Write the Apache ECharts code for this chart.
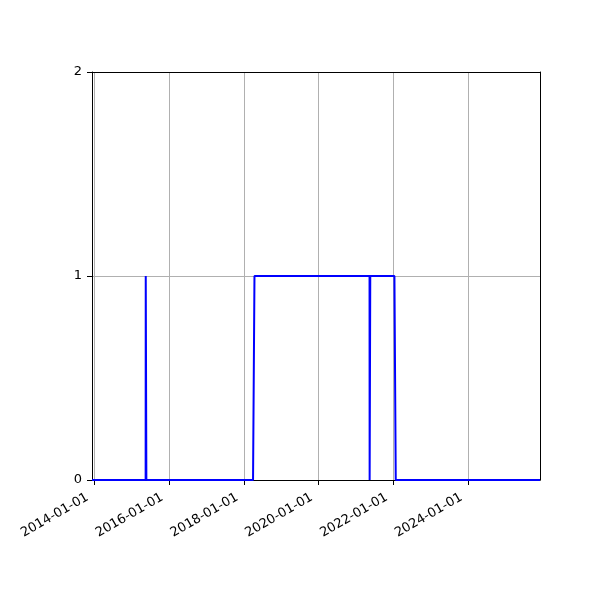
<!DOCTYPE html>
<html>
<head>
<meta charset="utf-8">
<script src="https://cdn.jsdelivr.net/npm/echarts@6/dist/echarts.min.js"></script>
<style>html,body{margin:0;padding:0;background:#fff}#c{width:600px;height:600px}</style>
</head>
<body>
<div id="c"></div>
<script>
// ---- data ----
const dates = ['2013-12-10','2015-05-18','2015-05-19','2015-05-24','2015-05-25','2018-04-01','2018-04-15','2021-05-13','2021-05-14','2021-05-19','2021-05-20','2022-01-11','2022-01-24','2025-12-03'];
const values = [0,0,1,1,0,0,1,1,0,0,1,1,0,0];
const xTickDates = ['2014-01-01','2016-01-01','2018-01-01','2020-01-01','2022-01-01','2024-01-01'];
const yTicks = [0,1,2];
const xRange = ['2013-12-10','2025-12-03'];

function ts(s){const p=s.split('-').map(Number);return Date.UTC(p[0],p[1]-1,p[2]);}
function fmt(v){const d=new Date(v);const p=n=>String(n).padStart(2,'0');return d.getUTCFullYear()+'-'+p(d.getUTCMonth()+1)+'-'+p(d.getUTCDate());}
const seriesData = dates.map((d,i)=>[ts(d),values[i]]);
const xTickVals = xTickDates.map(ts);
const font = 'DejaVu Sans';

const chart = echarts.init(document.getElementById('c'), null, {renderer:'canvas'});
chart.setOption({
  animation:false,
  grid:{left:92,right:60,top:72,bottom:120,show:false},
  xAxis:[{
    type:'value', min:ts(xRange[0]), max:ts(xRange[1]),
    axisLine:{show:true,onZero:false,lineStyle:{color:'#000',width:1}},
    axisTick:{show:true,length:5,lineStyle:{color:'#000',width:1},customValues:xTickVals},
    axisLabel:{show:true,rotate:30,margin:20,verticalAlign:'bottom',align:'right',padding:[0,4,0,0],color:'#000',fontFamily:font,fontSize:13,
      customValues:xTickVals, formatter:fmt, showMinLabel:true, showMaxLabel:true},
    splitLine:{show:true,lineStyle:{color:'#b0b0b0',width:1}}
  },{
    type:'value', position:'top', min:ts(xRange[0]), max:ts(xRange[1]),
    axisLine:{show:true,onZero:false,lineStyle:{color:'#000',width:1}},
    axisTick:{show:false},axisLabel:{show:false},splitLine:{show:false}
  }],
  yAxis:[{
    type:'value', min:yTicks[0], max:yTicks[yTicks.length-1], interval:1,
    axisLine:{show:true,onZero:false,lineStyle:{color:'#000',width:1}},
    axisTick:{show:true,length:5,lineStyle:{color:'#000',width:1}},
    axisLabel:{color:'#000',fontFamily:font,fontSize:13,margin:10},
    splitLine:{show:true,lineStyle:{color:'#b0b0b0',width:1}}
  },{
    type:'value', position:'right', min:yTicks[0], max:yTicks[yTicks.length-1],
    axisLine:{show:true,onZero:false,lineStyle:{color:'#000',width:1}},
    axisTick:{show:false},axisLabel:{show:false},splitLine:{show:false}
  }],
  series:[{
    type:'line', data:seriesData, showSymbol:false, symbol:'none',
    lineStyle:{color:'#0000ff',width:2}, clip:false
  }]
});
</script>
</body>
</html>
